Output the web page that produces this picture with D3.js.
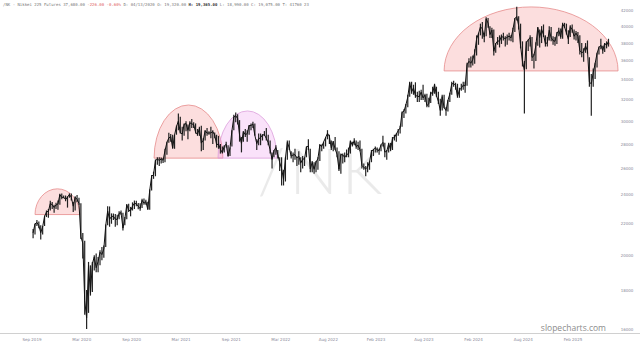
<!DOCTYPE html>
<html><head><meta charset="utf-8">
<script src="https://cdn.jsdelivr.net/npm/d3@7/dist/d3.min.js"></script>
<style>html,body{margin:0;padding:0;background:#fff;}svg{display:block;}</style>
</head><body>
<svg id="c" width="640" height="345"></svg>
<script>
// ---- DATA (weekly, Friday closes of Nikkei 225 futures) ----
const firstWeek = "2019-09-06";
const closes = [
21400,21990,22080,21880,21410,21800,22490,22800,22850,23390,23300,23110,23290,23350,24020,23820,23840,
23660,23850,24040,23830,23200,23830,23690,23390,21140,20750,17430,16550,19390,17820,19500,19900,19260,19620,20180,20040,20390,21880,22860,22300,22480,22510,22310,22290,22700,22750,21710,22330,23290,22920,22880,23200,23410,23360,23200,23030,23620,23410,23520,22980,24330,25390,25530,26640,26750,26650,26760,26660,
27440,28140,28520,28630,27660,28780,29520,30020,28970,28860,29720,29790,29180,29850,29770,29680,29020,28810,29360,28080,28320,29150,28940,28950,28960,29070,28780,27940,28000,27550,27280,27820,27980,27010,27640,29130,30380,30500,30250,28770,28050,29070,28800,28890,29610,29610,29750,28750,28030,28440,28550,28780,28790,
28480,28120,27520,26720,27440,27700,27120,26480,25990,25160,26830,28150,27670,26990,27090,27110,26850,27000,26430,26740,26780,27760,27820,25960,26490,25940,26520,26790,27910,27800,28180,28550,28930,28640,27650,28210,27570,27150,25940,27120,27090,26890,27110,27200,28260,27900,28280,27780,27900,27530,26240,26090,
25970,26120,26550,27380,27510,27670,27510,27450,27930,28140,27330,27390,28040,27520,28490,28560,28860,29160,29390,30810,30920,31520,32270,33710,32780,33190,32390,32390,32300,32760,32190,32470,31450,31620,32710,32610,33530,32400,31860,30990,32320,31260,30990,31950,32570,33590,33630,33430,32310,32970,33170,33460,
33380,35580,35960,35750,36160,36900,38490,39100,39910,39690,38710,40890,40370,38990,39520,37070,37930,38240,38230,38790,38650,38490,38680,38810,38600,39580,40910,41190,40060,37670,35910,35030,38060,38360,38650,36390,36580,37720,39830,38640,39610,38980,37910,38050,39500,38640,38280,38210,39090,39470,38700,40280,
39890,39190,38450,39930,39570,38790,39150,38780,37160,36890,37050,37680,37120,33780,33590,34730,35710,36830,37500,37750,37160,37970,37740,38200
];
const highs = [
21650,22020,22250,22150,21900,21850,22550,22900,23000,23590,23500,23300,23440,23600,24090,24100,23960,
23960,23900,24120,24110,23500,23900,23990,23800,23400,21400,20900,18000,19600,19400,19600,20000,20100,19900,20300,20500,20600,21950,23200,23180,22700,22700,22650,22600,22850,22900,22750,22450,23350,23380,23150,23470,23600,23590,23430,23400,23720,23750,23650,23520,24400,25500,25750,26720,26900,26900,26880,26850,
27600,28200,28980,28860,28800,28800,29600,30700,30400,29500,29800,30000,29700,30000,30200,29900,29800,29300,29500,29600,28500,29200,29400,29100,29500,29200,29000,28800,28700,28000,27800,27900,28200,27900,27700,29200,30600,30800,30650,30100,28600,29100,29300,29200,29650,29800,29950,29800,28400,28900,28900,28850,29120,
29390,28800,28300,27300,27500,27900,27500,26900,26900,25900,26900,28300,28300,27400,27300,27600,26950,27400,26900,27000,26900,27800,28400,27600,26600,26500,26600,26900,28000,27950,28200,28600,29200,28800,28300,28250,28600,27700,27400,27200,27200,27300,27550,27700,28300,28200,28500,28300,28200,28300,27600,26400,
26200,26500,26600,27500,27600,27800,27700,27600,27950,28700,28100,27500,28100,28100,28600,28800,28900,29300,29600,30900,31100,31600,32500,33800,33800,33500,33750,32800,32900,33000,33500,32600,32600,32200,32800,33300,33600,33300,32800,32100,32500,32500,31300,32000,32700,33800,33900,33700,33600,33200,33600,33800,
33800,35800,36300,36500,36600,37300,38900,39200,40300,40500,39200,41100,41000,40000,39800,39600,38000,38700,38900,39000,39200,38800,39000,39200,38900,39800,41000,42400,41200,40300,38200,36000,38200,38400,38900,38700,36800,38100,39900,39600,40000,40200,38900,38700,40000,39900,38800,38700,39300,39800,39700,40400,
40400,40300,39500,40100,40200,39600,39400,39300,38900,38000,37400,38000,38300,36400,34600,35200,35800,36900,37600,38500,37700,38000,38200,38500
];
const lows = [
21050,21300,21850,21700,20980,21300,21850,22450,22400,22900,23010,22750,23000,22950,23300,23700,23760,
23550,23100,23800,23600,22800,22900,23480,23300,21000,19800,16700,16000,16800,17700,17900,19100,19000,19000,19400,19700,19850,20500,21900,21800,22000,22250,21800,21900,22300,22600,21550,21900,22300,22800,22500,22900,23000,23200,22990,22880,23070,23300,23300,22950,22950,24330,25200,25400,26300,26200,26400,26430,
26500,27100,28100,28200,27600,27600,28800,29200,28900,28300,28700,29100,28400,29100,29400,29400,28900,28700,28700,27400,27500,28300,28700,28800,28500,28000,28500,27700,27600,27200,27200,27300,27700,26950,27000,27800,29200,29900,29700,28200,27300,28200,28600,28200,28800,29200,29400,28700,27500,27900,27900,28300,28700,
28300,27900,27200,26000,26900,27100,26800,25800,24700,24700,25000,26700,27500,26800,26500,26700,26200,26300,25700,26000,26200,26900,27500,25700,25700,25600,25700,25900,26600,27400,27600,27800,28400,28000,27500,27400,27500,26900,25800,25600,26400,26500,26900,26900,27200,27800,27900,27600,27500,27400,26000,25900,
25400,25700,25900,26500,27000,27300,27300,27100,27400,27800,26900,26700,27300,27400,27500,28300,28200,28700,28900,29500,30300,30700,31300,32300,32600,32500,32200,31800,31800,32000,32000,31800,31300,31300,31700,32400,32600,32300,31600,30500,31000,31200,30500,30900,31800,32500,33300,33000,32200,32200,32900,33000,
32700,33400,35300,35300,35500,35700,36600,37800,38900,38500,38100,38800,39800,38600,38600,36600,36900,37800,37500,37900,38300,37600,37800,38300,38200,38100,39300,40700,39600,37400,35400,30700,35100,37100,37600,36000,35200,36000,37700,37500,38000,38700,37600,37600,38300,38200,37800,37700,37900,38800,38500,38500,
39800,39000,37900,38700,39200,38400,38300,38000,36700,36400,35900,36900,36800,33300,30500,33300,34100,35300,36700,37300,36800,37000,37400,37600
];
const yTicks = [42000,40000,38000,36000,34000,32000,30000,28000,26000,24000,22000,20000,18000,16000];
const xTickDates = ["2019-09-02","2020-03-02","2020-09-01","2021-03-01","2021-09-01","2022-03-01","2022-08-22","2023-02-13","2023-08-07","2024-02-05","2024-08-05","2025-02-03"];
const domeStart = ["2019-09-13","2020-11-22","2021-07-14","2023-10-20"];
const domeEnd   = ["2020-02-24","2021-08-01","2022-02-15","2025-07-18"];
const domeBase  = [22620,26830,26830,34930];
const domeTop   = [24450,31510,30950,42400];
const domeKind  = ["red","red","pink","red"];
const headerParts = [
  {t:"/NK - Nikkei 225 Futures 37,680.00 ", c:"#777", w:400},
  {t:"-226.00 -0.60% ", c:"#e06060", w:400},
  {t:"D: 04/13/2020 O: 19,320.00 ", c:"#777", w:400},
  {t:"H: 19,365.00 ", c:"#333", w:700},
  {t:"L: 18,990.00 C: 19,075.00 T: 41760 23", c:"#777", w:400}
];

// ---- CHART ----
const svg = d3.select("#c");
const parse = d3.timeParse("%Y-%m-%d");
const x = d3.scaleTime().domain([parse("2019-09-02"), parse("2025-02-03")]).range([32, 573]);
const y = d3.scaleLog().domain([16000, 42000]).range([329, 10]);

const start = parse(firstWeek);
const data = closes.map((c, i) => ({d: d3.timeDay.offset(start, i * 7), c, h: highs[i], l: lows[i]}));

// watermark
svg.append("text").attr("x", 322).attr("y", 194).attr("text-anchor", "middle")
  .attr("font-family", "Lato, 'Open Sans', sans-serif").attr("font-weight", 300)
  .attr("font-size", 64).attr("letter-spacing", 4).attr("fill", "#000").attr("opacity", 0.08).text("/NK");

// domes
const domeStyle = {
  red: {fill: "rgb(238,90,90)", stroke: "rgb(230,140,140)"},
  pink: {fill: "rgb(230,110,230)", stroke: "rgb(220,160,220)"}
};
domeStart.forEach((s, i) => {
  const x0 = x(parse(s)), x1 = x(parse(domeEnd[i]));
  const yb = y(domeBase[i]), yt = y(domeTop[i]);
  const rx = (x1 - x0) / 2, ry = yb - yt;
  const p = `M${x0},${yb} A${rx},${ry} 0 0 1 ${x1},${yb} Z`;
  svg.append("path").attr("d", p).attr("fill", domeStyle[domeKind[i]].fill).attr("fill-opacity", 0.2)
    .attr("stroke", domeStyle[domeKind[i]].stroke).attr("stroke-width", 0.8);
});

// bottom axis line
svg.append("line").attr("x1", 0).attr("x2", 640).attr("y1", 333.5).attr("y2", 333.5)
  .attr("stroke", "#d0d0d0").attr("stroke-width", 1);

// price bars
svg.append("g").selectAll("line").data(data).join("line")
  .attr("x1", d => x(d.d)).attr("x2", d => x(d.d))
  .attr("y1", d => y(d.h)).attr("y2", d => y(d.l))
  .attr("stroke", "#222").attr("stroke-width", 1.2);
svg.append("path").datum(data)
  .attr("d", d3.line().x(d => x(d.d)).y(d => y(d.c)))
  .attr("fill", "none").attr("stroke", "#111").attr("stroke-width", 1);

// y labels
svg.append("g").selectAll("text").data(yTicks).join("text")
  .attr("x", 627).attr("y", d => y(d) + 1.5).attr("text-anchor", "middle")
  .attr("font-family", "'DejaVu Sans', sans-serif").attr("font-size", 4).attr("fill", "#8a8a9a")
  .text(d => d);

// x labels
const fmt = d3.timeFormat("%b %Y");
svg.append("g").selectAll("text").data(xTickDates).join("text")
  .attr("x", d => x(parse(d))).attr("y", 341).attr("text-anchor", "middle")
  .attr("font-family", "'DejaVu Sans', sans-serif").attr("font-size", 4).attr("fill", "#8a8a9a")
  .text(d => fmt(parse(d)));

// header
const ht = svg.append("text").attr("x", 3).attr("y", 6)
  .attr("font-family", "'DejaVu Sans Mono', monospace").attr("font-size", 4);
headerParts.forEach(p => ht.append("tspan").attr("fill", p.c).attr("font-weight", p.w).text(p.t));

// site mark
svg.append("text").attr("x", 606).attr("y", 331).attr("text-anchor", "end")
  .attr("font-family", "'Open Sans', sans-serif").attr("font-size", 8.5).attr("fill", "#8c8c8c")
  .text("slopecharts.com");
</script>
</body></html>
